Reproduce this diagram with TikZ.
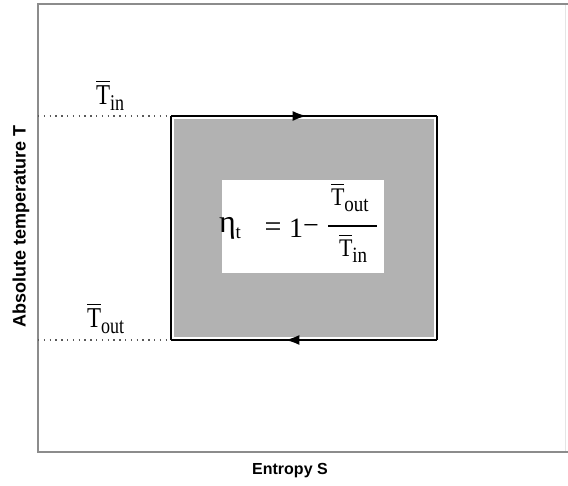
\documentclass[tikz,border=0pt]{standalone}
\usepackage{fontspec}
\usepackage{graphicx}
\setmainfont{Liberation Serif}
\newfontfamily\axisfont{Liberation Sans}
\usetikzlibrary{arrows.meta,decorations.markings}
\tikzset{
  frameline/.style={draw=black!45, line width=1.8pt},
  cycleline/.style={draw=black, line width=1.8pt},
  guide/.style={draw=black!65, line width=1.1pt, dash pattern=on 1.4pt off 4.4pt},
  axislabel/.style={font=\axisfont\bfseries},
  midarrow/.style={postaction={decorate}, decoration={markings, mark=at position #1 with {\arrow{Latex[length=14pt,width=10pt]}}}},
  sym/.style={inner sep=0pt, outer sep=0pt}
}
% T with a bar over it
\newcommand{\barT}{\vbox{\hrule height 1.1pt\kern 2.6pt\hbox{T}}}
\newcommand{\lowsub}[3]{\raisebox{#1}{\fontsize{#2}{#2}\selectfont #3}}
\begin{document}
\begin{tikzpicture}[x=1pt,y=-1pt]
\useasboundingbox (0,0) rectangle (568,485);
% frame
\coordinate (f1) at (568,4);
\coordinate (f2) at (38,4);
\coordinate (f3) at (38,452);
\coordinate (f4) at (568,452);
\draw[frameline] (f1) -- (f2) -- (f3) -- (f4);
\draw[black!10, line width=1pt] (565,5) -- (565,451);
% cycle corners
\coordinate (A) at (171,116);
\coordinate (B) at (437,116);
\coordinate (C) at (437,340);
\coordinate (D) at (171,340);
\fill[gray!60] (174,119) rectangle (434,337);
\node[fill=white, minimum width=162pt, minimum height=93pt, inner sep=0pt] (box) at (303,226.5) {};
\draw[cycleline, midarrow=0.51] (A) -- (B);
\draw[cycleline] (B) -- (C);
\draw[cycleline, midarrow=0.57] (C) -- (D);
\draw[cycleline] (D) -- (A);
% guides
\coordinate (g1) at (38,116);
\coordinate (g2) at (38,340);
\draw[guide] (g1) -- (A);
\draw[guide] (g2) -- (D);
% axis-level labels
\node[sym, anchor=base west] (tin) at (96,104)
  {\scalebox{1}[1.25]{\fontsize{23}{26}\selectfont\barT\lowsub{-5pt}{18}{in}}};
\node[sym, anchor=base west] (tout) at (87,327)
  {\scalebox{1}[1.25]{\fontsize{23}{26}\selectfont\barT\lowsub{-5pt}{18}{out}}};
% efficiency formula
\node[sym, anchor=base west] (eta) at (219,232)
  {\fontsize{32}{34}\selectfont η\lowsub{-6pt}{19}{t}};
\node[sym] (eq) at (273,230) {\fontsize{30}{32}\selectfont =};
\node[sym, anchor=base] (one) at (296,237) {\fontsize{28}{30}\selectfont 1};
\node[sym] (minus) at (311,229) {\fontsize{28}{30}\selectfont −};
\coordinate (fb1) at (328,226);
\coordinate (fb2) at (377,226);
\draw[line width=1.3pt] (fb1) -- (fb2);
\node[sym, anchor=base west] (num) at (331,205)
  {\scalebox{1}[1.15]{\fontsize{22}{24}\selectfont\barT\lowsub{-6pt}{19}{out}}};
\node[sym, anchor=base west] (den) at (339,256)
  {\scalebox{1}[1.15]{\fontsize{22}{24}\selectfont\barT\lowsub{-6pt}{19}{in}}};
\node[axislabel, rotate=90, font=\axisfont\bfseries\fontsize{18}{20}\selectfont] (ylab) at (21,226) {Absolute temperature T};
\node[axislabel, font=\axisfont\bfseries\fontsize{16}{18}\selectfont] (xlab) at (290,471) {Entropy S};
\end{tikzpicture}
\end{document}
